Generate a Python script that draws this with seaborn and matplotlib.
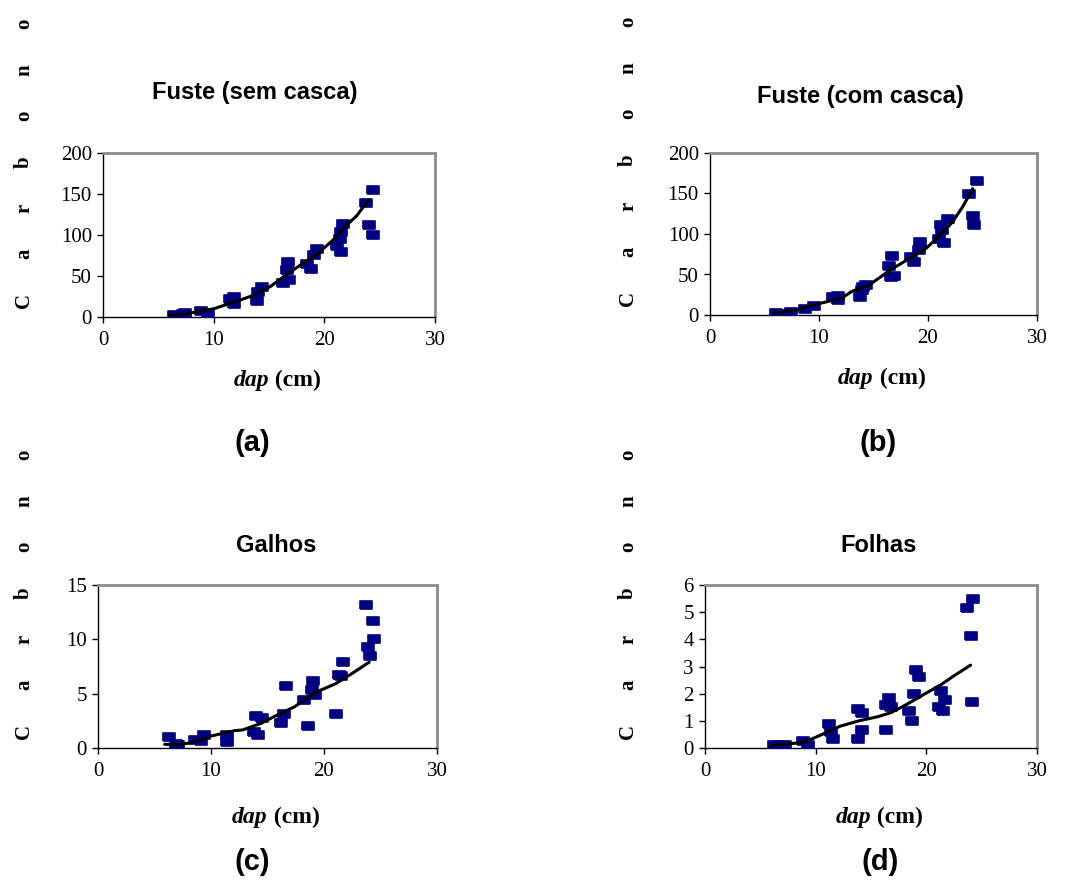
import matplotlib
matplotlib.use("Agg")
import matplotlib.pyplot as plt
import seaborn as sns
import pandas as pd

# --- data ---
# (a) Fuste (sem casca)
dap_a = [6.4, 7.2, 7.4, 8.9, 9.5, 11.5, 11.8, 11.8, 13.9, 14.0, 14.4,
         16.3, 16.6, 16.7, 16.8, 18.4, 18.8, 19.1, 19.3,
         21.1, 21.4, 21.5, 21.5, 21.7, 23.8, 24.0, 24.4, 24.4]
c_a = [3, 4, 5, 7, 4, 22, 24, 16, 20, 30, 36,
       42, 57, 67, 45, 65, 59, 75, 83,
       87, 95, 104, 79, 114, 139, 112, 100, 155]
fit_dap_a = [6.0, 7.2, 8.7, 10.0, 11.8, 13.3, 15.1, 16.0, 17.8, 19.3, 20.8, 22.0, 22.9, 24.0]
fit_c_a = [2, 3, 7, 10, 18, 25, 37, 46, 63, 76, 94, 112, 123, 143]

# (b) Fuste (com casca)
dap_b = [6.1, 6.7, 7.4, 8.7, 9.5, 11.3, 11.7, 11.7, 13.8, 13.9, 14.3, 14.0,
         16.4, 16.6, 16.7, 16.9, 18.4, 18.7, 19.2, 19.3,
         21.0, 21.2, 21.3, 21.5, 21.8, 23.8, 24.1, 24.2, 24.5]
c_b = [2, 1, 4, 8, 11, 22, 24, 19, 22, 31, 37, 34,
       61, 47, 73, 48, 71, 66, 80, 90,
       94, 111, 105, 89, 119, 149, 122, 111, 166]
fit_dap_b = [5.8, 7.5, 10.0, 12.1, 13.0, 14.6, 16.7, 18.6, 19.8, 21.0, 22.2, 23.2, 24.1]
fit_c_b = [2, 5, 14, 21, 29, 37, 57, 72, 82, 97, 114, 134, 156]

# (c) Galhos
dap_c = [6.25, 6.9, 7.1, 8.55, 9.1, 9.4, 11.4, 11.4, 13.8, 14.0, 14.2, 14.5,
         16.2, 16.5, 16.6, 18.2, 18.6, 18.9, 19.0, 19.2,
         21.1, 21.3, 21.5, 21.7, 23.7, 23.9, 24.1, 24.3, 24.4]
c_c = [1.03, 0.34, 0.25, 0.72, 0.62, 1.16, 1.19, 0.56, 1.47, 2.9, 1.19, 2.75,
       2.34, 3.1, 5.7, 4.4, 2.03, 5.3, 6.16, 4.84,
       3.1, 6.75, 6.6, 7.9, 13.2, 9.3, 8.5, 11.7, 10.0]
fit_dap_c = [5.9, 7.1, 8.4, 10.0, 12.1, 12.8, 14.5, 15.6, 17.4, 19.2, 21.0, 22.4, 24.0]
fit_c_c = [0.34, 0.31, 0.5, 1.1, 1.6, 1.66, 2.3, 2.9, 3.8, 5.1, 5.9, 6.8, 7.9]

# (d) Folhas
dap_d = [6.2, 6.7, 7.2, 8.9, 9.3, 11.2, 11.4, 11.6, 13.8, 13.8, 14.2, 14.2,
         16.4, 16.4, 16.6, 16.8, 18.4, 18.7, 18.9, 19.1, 19.3,
         21.1, 21.3, 21.5, 21.7, 23.7, 24.0, 24.1, 24.2]
c_d = [0.12, 0.12, 0.12, 0.25, 0.1, 0.9, 0.58, 0.33, 1.42, 0.33, 1.27, 0.65,
       1.6, 0.65, 1.85, 1.52, 1.35, 1.0, 2.0, 2.86, 2.63,
       1.52, 2.08, 1.35, 1.76, 5.17, 4.13, 1.68, 5.5]
fit_dap_d = [5.9, 6.7, 7.6, 9.0, 10.2, 12.2, 13.9, 15.6, 16.8, 18.2, 19.9, 21.4, 22.5, 24.0]
fit_c_d = [0.06, 0.14, 0.15, 0.22, 0.43, 0.8, 1.0, 1.15, 1.3, 1.6, 2.0, 2.35, 2.66, 3.05]

titles = ["Fuste (sem casca)", "Fuste (com casca)", "Galhos", "Folhas"]
tags = ["(a)", "(b)", "(c)", "(d)"]
yticks = [[0, 50, 100, 150, 200], [0, 50, 100, 150, 200],
          [0, 5, 10, 15], [0, 1, 2, 3, 4, 5, 6]]

panels = [(dap_a, c_a, fit_dap_a, fit_c_a),
          (dap_b, c_b, fit_dap_b, fit_c_b),
          (dap_c, c_c, fit_dap_c, fit_c_c),
          (dap_d, c_d, fit_dap_d, fit_c_d)]

sns.set_style("white")
plt.rcParams['font.family'] = ['Liberation Serif', 'DejaVu Serif']
plt.rcParams['text.color'] = 'black'

W, H = 1066, 880
fig = plt.figure(figsize=(W / 100, H / 100), dpi=100)

# axes boxes in pixels: left, right, top, bottom
boxes = [(103, 435, 153, 317), (710, 1037, 153, 315),
         (98, 437, 585, 748), (705, 1037, 585, 748)]
title_y = [92, 97, 545, 545]
title_x = [255, 860, 276, 879]
xlabel_y = [380, 378, 817, 817]
tag_y = [443, 443, 862, 862]
tag_x = [252, 878, 252, 880]
ylab_x = [24, 628, 24, 628]

navy = "#000080"
marker = [(-1.5, -1), (1.5, -1), (1.5, 1), (-1.5, 1), (-1.5, -1)]

for i, (dap, carb, fdap, fc) in enumerate(panels):
    l, r, t, b = boxes[i]
    ax = fig.add_axes([l / W, 1 - b / H, (r - l) / W, (b - t) / H])
    df = pd.DataFrame({"dap": dap, "c": carb})
    fit = pd.DataFrame({"dap": fdap, "c": fc})
    sns.scatterplot(data=df, x="dap", y="c", ax=ax, marker=marker, s=70,
                    color=navy, edgecolor=navy, linewidth=1.2, zorder=3)
    sns.lineplot(data=fit, x="dap", y="c", ax=ax, color="black", lw=2.2,
                 sort=False, zorder=4)
    ax.set_xlim(0, 30)
    ax.set_ylim(0, yticks[i][-1])
    ax.set_xticks([0, 10, 20, 30])
    ax.set_yticks(yticks[i])
    ax.set_xlabel("")
    ax.set_ylabel("")
    ax.tick_params(axis="both", direction="out", length=4, width=1,
                   labelsize=15, colors="black", left=True, bottom=True)
    ax.tick_params(axis="x", pad=6)
    ax.tick_params(axis="y", pad=4)
    for s in ["left", "bottom"]:
        ax.spines[s].set_color("black")
        ax.spines[s].set_linewidth(1)
    for s in ["top", "right"]:
        ax.spines[s].set_color("#8c8c8c")
        ax.spines[s].set_linewidth(2)

    cx = (l + r) / 2 / W
    fig.text(title_x[i] / W, 1 - title_y[i] / H, titles[i], ha="center",
             va="center", fontsize=17, fontweight="bold",
             family=["Liberation Sans"])
    # "dap (cm)" label: italic part + upright part
    fig.text(cx, 1 - xlabel_y[i] / H, "dap", ha="right", va="center",
             fontsize=17, fontweight="bold", style="italic")
    fig.text(cx, 1 - xlabel_y[i] / H, " (cm)", ha="left", va="center",
             fontsize=17, fontweight="bold")
    fig.text(tag_x[i] / W, 1 - tag_y[i] / H, tags[i], ha="center",
             va="center", fontsize=21, fontweight="bold",
             family=["Liberation Sans"])
    for k, ch in enumerate("Carbono"):
        yp = b - 17 - k * 46
        fig.text(ylab_x[i] / W, 1 - yp / H, ch, rotation=90, ha="center",
                 va="center", fontsize=15, fontweight="bold")

fig.savefig("out.png", dpi=100)
